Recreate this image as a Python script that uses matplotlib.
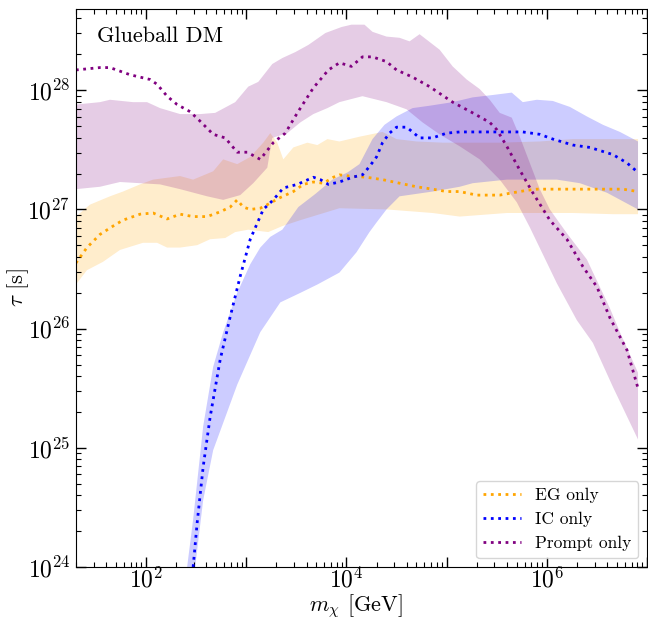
import numpy as np
import matplotlib
matplotlib.use("Agg")
import matplotlib.pyplot as plt
from matplotlib.ticker import LogLocator, FuncFormatter, NullFormatter

plt.rcParams.update({
    "font.family": "serif",
    "font.serif": ["cmr10"],
    "mathtext.fontset": "cm",
    "axes.formatter.use_mathtext": True,
    "axes.unicode_minus": False,
})

# log10(m / GeV) and log10(tau / s) for the best-fit lines and the bands

# EG only
eg_logm = [1.30, 1.41, 1.54, 1.67, 1.77, 1.94, 2.07, 2.21, 2.34, 2.47, 2.61, 2.74,
           2.84, 2.91, 2.97, 3.04, 3.14, 3.21, 3.34, 3.47, 3.57, 3.67, 3.77, 3.87,
           3.93, 4.03, 4.20, 4.36, 4.53, 4.70, 4.86, 5.00, 5.13, 5.30, 5.53, 5.66,
           5.80, 5.90, 6.26, 6.76, 6.91]
eg_logtau = [26.55, 26.68, 26.79, 26.86, 26.91, 26.96, 26.97, 26.92, 26.96, 26.94,
             26.94, 26.98, 27.02, 27.08, 27.02, 27.00, 27.01, 27.04, 27.10, 27.15,
             27.21, 27.23, 27.22, 27.27, 27.29, 27.28, 27.27, 27.25, 27.22, 27.19,
             27.17, 27.15, 27.15, 27.12, 27.12, 27.14, 27.16, 27.17, 27.17, 27.17,
             27.15]
eg_hi_logm = [1.30, 1.44, 1.64, 1.77, 1.94, 2.07, 2.34, 2.47, 2.67, 2.77, 2.91, 3.04,
              3.17, 3.24, 3.31, 3.37, 3.47, 3.61, 3.71, 3.81, 3.93, 4.13, 4.36, 4.50,
              4.70, 4.96, 5.53, 5.93, 6.26, 6.91]
eg_hi_logtau = [26.94, 27.04, 27.11, 27.15, 27.21, 27.25, 27.28, 27.25, 27.32, 27.42,
                 27.38, 27.44, 27.56, 27.64, 27.56, 27.42, 27.52, 27.56, 27.54, 27.59,
                 27.57, 27.61, 27.65, 27.59, 27.57, 27.56, 27.56, 27.57, 27.59, 27.59]
eg_lo_logm = [1.30, 1.41, 1.57, 1.74, 1.97, 2.11, 2.21, 2.34, 2.51, 2.64, 2.79, 2.89,
              3.02, 3.22, 3.36, 3.54, 3.93, 4.40, 4.86, 5.13, 5.60, 6.26, 6.66, 6.91]
eg_lo_logtau = [26.37, 26.49, 26.56, 26.66, 26.72, 26.72, 26.68, 26.68, 26.70, 26.75,
                26.76, 26.81, 26.83, 26.81, 26.86, 26.91, 27.01, 27.00, 26.97, 26.94,
                26.97, 26.97, 26.96, 26.96]

# IC only
ic_logm = [2.47, 2.51, 2.57, 2.64, 2.74, 2.84, 2.94, 3.04, 3.17, 3.27, 3.37, 3.51,
           3.67, 3.74, 3.82, 3.93, 4.06, 4.16, 4.23, 4.30, 4.36, 4.43, 4.50, 4.60,
           4.66, 4.73, 4.86, 5.00, 5.13, 5.53, 5.76, 5.93, 6.06, 6.26, 6.43, 6.66,
           6.80, 6.91]
ic_logtau = [24.00, 24.37, 24.84, 25.26, 25.74, 26.10, 26.44, 26.75, 27.00, 27.08,
             27.18, 27.21, 27.27, 27.25, 27.21, 27.23, 27.27, 27.29, 27.36, 27.44,
             27.56, 27.64, 27.69, 27.69, 27.65, 27.60, 27.60, 27.64, 27.65, 27.65,
             27.65, 27.63, 27.59, 27.54, 27.52, 27.46, 27.39, 27.31]
ic_hi_logm = [2.41, 2.47, 2.57, 2.67, 2.77, 2.91, 3.04, 3.14, 3.24, 3.36, 3.52, 3.69,
              3.86, 4.01, 4.13, 4.26, 4.38, 4.50, 4.66, 4.83, 5.06, 5.26, 5.46, 5.65,
              5.76, 5.90, 6.06, 6.23, 6.40, 6.56, 6.73, 6.91]
ic_hi_logtau = [24.00, 24.40, 25.18, 25.68, 25.97, 26.30, 26.54, 26.68, 26.77, 26.83,
                27.02, 27.13, 27.25, 27.31, 27.38, 27.59, 27.71, 27.78, 27.85, 27.87,
                27.90, 27.94, 27.96, 27.98, 27.90, 27.92, 27.91, 27.86, 27.78, 27.71,
                27.65, 27.57]
ic_lo_logm = [2.49, 2.57, 2.67, 2.91, 3.14, 3.34, 3.54, 3.71, 3.93, 4.10, 4.23, 4.30,
              4.40, 4.53, 4.86, 5.13, 5.26, 5.60, 6.10, 6.33, 6.60, 6.91]
ic_lo_logtau = [24.00, 24.56, 24.98, 25.53, 25.97, 26.22, 26.30, 26.37, 26.47, 26.64,
                26.81, 26.89, 27.00, 27.11, 27.15, 27.19, 27.22, 27.25, 27.25, 27.22,
                27.14, 27.00]

# Prompt only
pr_logm = [1.30, 1.54, 1.64, 1.84, 2.04, 2.11, 2.21, 2.31, 2.44, 2.54, 2.67, 2.79,
           2.91, 3.01, 3.14, 3.27, 3.39, 3.51, 3.67, 3.82, 3.93, 4.05, 4.16, 4.26,
           4.40, 4.50, 4.66, 4.83, 5.06, 5.26, 5.43, 5.50, 5.60, 5.73, 5.86, 6.03,
           6.20, 6.36, 6.50, 6.63, 6.80, 6.91]
pr_logtau = [28.17, 28.19, 28.19, 28.13, 28.09, 28.05, 27.95, 27.88, 27.82, 27.74,
             27.63, 27.60, 27.48, 27.48, 27.42, 27.56, 27.64, 27.81, 28.02, 28.17,
             28.23, 28.20, 28.28, 28.28, 28.24, 28.17, 28.11, 28.03, 27.90, 27.81,
             27.73, 27.67, 27.53, 27.33, 27.14, 26.91, 26.75, 26.52, 26.35, 26.09,
             25.82, 25.50]
pr_hi_logm = [1.30, 1.54, 1.64, 1.87, 2.01, 2.14, 2.34, 2.54, 2.69, 2.89, 3.02, 3.12,
              3.26, 3.36, 3.49, 3.62, 3.79, 3.95, 4.05, 4.18, 4.26, 4.40, 4.53, 4.63,
              4.73, 4.93, 5.06, 5.20, 5.33, 5.43, 5.53, 5.65, 5.73, 5.83, 5.93, 6.03,
              6.20, 6.40, 6.63, 6.73, 6.91]
pr_hi_logtau = [27.88, 27.90, 27.92, 27.90, 27.90, 27.85, 27.80, 27.80, 27.81, 27.90,
                28.03, 28.07, 28.22, 28.27, 28.32, 28.38, 28.48, 28.53, 28.55, 28.55,
                28.49, 28.45, 28.44, 28.41, 28.47, 28.34, 28.20, 28.09, 28.01, 27.92,
                27.81, 27.77, 27.61, 27.39, 27.17, 27.00, 26.80, 26.58, 26.17, 25.97,
                25.63]
pr_lo_logm = [1.30, 1.54, 1.74, 1.94, 2.14, 2.34, 2.61, 2.77, 2.94, 3.07, 3.21, 3.26,
              3.41, 3.54, 3.67, 3.81, 3.93, 4.16, 4.40, 4.60, 4.76, 4.93, 5.13, 5.33,
              5.53, 5.70, 5.83, 6.10, 6.30, 6.46, 6.66, 6.91]
pr_lo_logtau = [27.17, 27.19, 27.23, 27.22, 27.21, 27.17, 27.11, 27.08, 27.12, 27.22,
                27.35, 27.60, 27.64, 27.73, 27.80, 27.85, 27.90, 27.95, 27.90, 27.84,
                27.73, 27.63, 27.53, 27.42, 27.25, 27.06, 26.85, 26.38, 26.07, 25.88,
                25.51, 25.07]


def band(ax, hi_m, hi_t, lo_m, lo_t, color):
    xs = np.concatenate([hi_m, lo_m[::-1]])
    ys = np.concatenate([hi_t, lo_t[::-1]])
    ax.fill(10.0**xs, 10.0**ys, color=color, alpha=0.2, lw=0)


def even_decades(x, pos):
    e = int(round(np.log10(x)))
    return r"$10^{%d}$" % e if e % 2 == 0 else ""


fig = plt.figure(figsize=(6.48, 6.18), dpi=100)
ax = fig.add_axes([0.1173, 0.0825, 0.8812, 0.9029])

band(ax, eg_hi_logm, eg_hi_logtau, eg_lo_logm, eg_lo_logtau, "orange")
band(ax, ic_hi_logm, ic_hi_logtau, ic_lo_logm, ic_lo_logtau, "blue")
band(ax, pr_hi_logm, pr_hi_logtau, pr_lo_logm, pr_lo_logtau, "purple")

ax.plot(10.0**np.array(eg_logm), 10.0**np.array(eg_logtau), ls=":", lw=2,
        color="orange", label="EG only")
ax.plot(10.0**np.array(ic_logm), 10.0**np.array(ic_logtau), ls=":", lw=2,
        color="blue", label="IC only")
ax.plot(10.0**np.array(pr_logm), 10.0**np.array(pr_logtau), ls=":", lw=2,
        color="purple", label="Prompt only")

ax.set_xscale("log")
ax.set_yscale("log")
ax.set_xlim(20, 1e7)
ax.set_ylim(1e24, 4.8e28)

ax.xaxis.set_major_locator(LogLocator(base=10, numticks=20))
ax.xaxis.set_major_formatter(FuncFormatter(even_decades))
ax.xaxis.set_minor_locator(LogLocator(base=10, subs=np.arange(2, 10), numticks=20))
ax.xaxis.set_minor_formatter(NullFormatter())

ax.tick_params(which="both", direction="in", top=True, right=True, labelsize=17)
ax.tick_params(which="major", length=7, width=1, pad=4)
ax.tick_params(which="minor", length=3.5, width=0.8)
ax.tick_params(axis="x", which="major", pad=0.5)

ax.set_xlabel(r"$m_\chi$ [GeV]", fontsize=16)
ax.set_ylabel(r"$\tau$ [s]", fontsize=16.5)
ax.xaxis.set_label_coords(0.49, -0.044)
ax.yaxis.set_label_coords(-0.078, 0.5)

ax.text(0.037, 0.968, "Glueball DM", transform=ax.transAxes, va="top",
        ha="left", fontsize=16)

ax.legend(loc="lower right", fontsize=12.5, handlelength=2.2)

fig.savefig("out.png", dpi=100)
